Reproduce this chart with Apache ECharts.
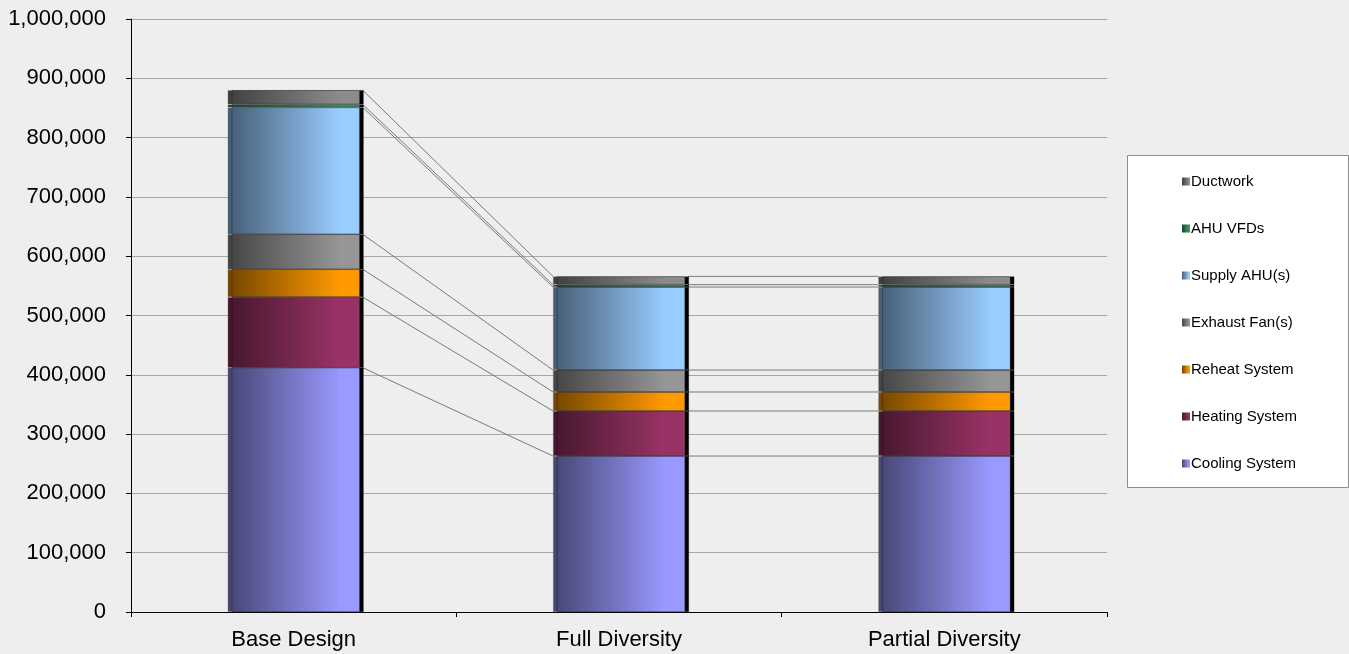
<!DOCTYPE html>
<html>
<head>
<meta charset="utf-8">
<script src="https://cdn.jsdelivr.net/npm/echarts@6/dist/echarts.min.js"></script>
<style>
  html, body { margin: 0; padding: 0; background: #eeeeee; }
  #chart { width: 1349px; height: 654px; }
</style>
</head>
<body>
<div id="chart"></div>
<script>
const categories = ['Base Design', 'Full Diversity', 'Partial Diversity']

// bottom to top of the stack
const seriesNames = ['Cooling System', 'Heating System', 'Reheat System', 'Exhaust Fan(s)', 'Supply AHU(s)', 'AHU VFDs', 'Ductwork']
const cooling = [412000, 263000, 263000]
const heating = [119000, 76000, 76000]
const reheat = [47000, 32000, 32000]
const exhaust = [59000, 37000, 37000]
const supply = [214000, 140000, 140000]
const ahuVfds = [5000, 4000, 4000]
const ductwork = [24000, 14000, 14000]

const yTicks = [0, 100000, 200000, 300000, 400000, 500000, 600000, 700000, 800000, 900000, 1000000]

const seriesValues = [cooling, heating, reheat, exhaust, supply, ahuVfds, ductwork]
const baseColors = ['#9999ff', '#993366', '#ff9900', '#969696', '#99ccff', '#339966', '#8c8c8c']
const BAR_W = 132
const FONT = '"Liberation Sans", Arial, sans-serif'

function shade(hex, k) {
  const n = parseInt(hex.slice(1), 16)
  const r = Math.round(((n >> 16) & 255) * k)
  const g = Math.round(((n >> 8) & 255) * k)
  const b = Math.round((n & 255) * k)
  return `rgb(${r},${g},${b})`
}

function gradient(hex) {
  return new echarts.graphic.LinearGradient(0, 0, 1, 0, [
    { offset: 0, color: shade(hex, 0.45) },
    { offset: 0.85, color: hex },
    { offset: 1, color: hex },
  ])
}

// cumulative tops for the series lines
const tops = []
let running = categories.map(() => 0)
seriesValues.forEach(vals => {
  running = running.map((r, i) => r + vals[i])
  tops.push(running.slice())
})

const lineData = []
tops.forEach(t => {
  for (let j = 0; j < categories.length - 1; j++) lineData.push([j, t[j], t[j + 1]])
})

const barSeries = seriesNames.map((name, i) => ({
  name,
  type: 'bar',
  stack: 'total',
  barWidth: BAR_W,
  data: seriesValues[i],
  z: 3,
  itemStyle: {
    color: gradient(baseColors[i]),
    borderColor: 'rgba(110,110,110,0.5)',
    borderWidth: 0.6,
    shadowColor: '#000',
    shadowBlur: 0,
    shadowOffsetX: 4,
    shadowOffsetY: 0,
  },
  emphasis: { disabled: true },
}))

const chart = echarts.init(document.getElementById('chart'))
chart.setOption({
  backgroundColor: '#eeeeee',
  animation: false,
  textStyle: { fontFamily: FONT },
  grid: { left: 131, right: 242, top: 19, bottom: 42 },
  graphic: [{
    type: 'rect',
    left: 1127, top: 155,
    shape: { width: 221, height: 332 },
    style: { fill: '#ffffff', stroke: '#8c8c8c', lineWidth: 1 },
    z: 1,
  }],
  legend: {
    orient: 'vertical',
    left: 1177,
    top: 169,
    icon: 'rect',
    itemWidth: 8,
    itemHeight: 8,
    itemGap: 32,
    data: seriesNames.slice().reverse(),
    textStyle: { color: '#000', fontSize: 15, fontFamily: FONT, padding: [0, 0, 0, -4] },
    itemStyle: { shadowColor: 'transparent', shadowOffsetX: 0, borderWidth: 0 },
    z: 5,
  },
  xAxis: {
    type: 'category',
    data: categories,
    boundaryGap: true,
    axisLine: { lineStyle: { color: '#000', width: 1 } },
    axisTick: { show: true, alignWithLabel: false, length: 5, lineStyle: { color: '#000' } },
    axisLabel: { color: '#000', fontSize: 22, fontFamily: FONT, margin: 17 },
  },
  yAxis: {
    type: 'value',
    min: yTicks[0],
    max: yTicks[yTicks.length - 1],
    interval: yTicks[1] - yTicks[0],
    axisLine: { show: true, lineStyle: { color: '#000', width: 1 } },
    axisTick: { show: true, length: 5, lineStyle: { color: '#000' } },
    axisLabel: {
      color: '#000', fontSize: 22, fontFamily: FONT, margin: 25,
      formatter: v => v.toLocaleString('en-US'),
    },
    splitLine: { lineStyle: { color: '#a6a6a6', width: 1 } },
  },
  series: [
    ...barSeries,
    {
      type: 'custom',
      name: 'series lines',
      z: 2,
      silent: true,
      encode: { x: 0, y: [1, 2] },
      data: lineData,
      renderItem(params, api) {
        const p0 = api.coord([api.value(0), api.value(1)])
        const p1 = api.coord([api.value(0) + 1, api.value(2)])
        return {
          type: 'line',
          shape: { x1: p0[0] + BAR_W / 2 + 3, y1: p0[1], x2: p1[0] - BAR_W / 2, y2: p1[1] },
          style: { stroke: '#7a7a7a', lineWidth: 1 },
        }
      },
    },
  ],
})
</script>
</body>
</html>
